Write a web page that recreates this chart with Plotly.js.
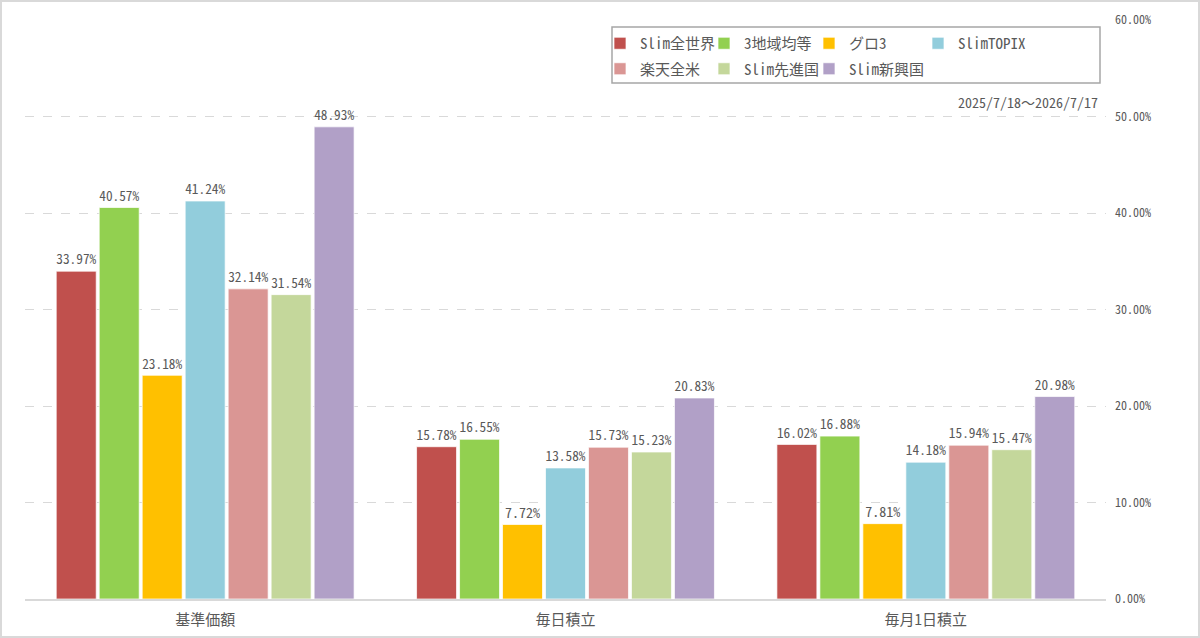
<!DOCTYPE html>
<html>
<head>
<meta charset="utf-8">
<script src="https://cdn.plot.ly/plotly-3.0.1.min.js"></script>
<style>
  body { margin: 0; background: #fff; }
  #chart { width: 1200px; height: 638px; }
</style>
</head>
<body>
<div id="chart"></div>
<script>
var categories = ['基準価額', '毎日積立', '毎月1日積立']

var seriesNames = ['Slim全世界', '3地域均等', 'グロ3', 'SlimTOPIX', '楽天全米', 'Slim先進国', 'Slim新興国']
var seriesColors = ['#C0504D', '#92D050', '#FFC000', '#92CDDC', '#DA9694', '#C4D79B', '#B1A0C7']

var slimAll = [33.97, 15.78, 16.02]
var threeRegion = [40.57, 16.55, 16.88]
var guro3 = [23.18, 7.72, 7.81]
var slimTopix = [41.24, 13.58, 14.18]
var rakutenUS = [32.14, 15.73, 15.94]
var slimDeveloped = [31.54, 15.23, 15.47]
var slimEmerging = [48.93, 20.83, 20.98]

var seriesValues = [slimAll, threeRegion, guro3, slimTopix, rakutenUS, slimDeveloped, slimEmerging]

var periodLabel = '2025/7/18～2026/7/17'

var textColor = '#595959'
var font = '"Noto Sans Mono CJK JP", "Noto Sans CJK JP", "Noto Sans", sans-serif'

// legend columns (two rows): column index per series
var legendIds = ['legend', 'legend2', 'legend3', 'legend4', 'legend', 'legend2', 'legend3']

var traces = []
for (let i = 0; i < seriesNames.length; i++) {
  traces.push({
    type: 'bar',
    name: seriesNames[i],
    x: categories,
    y: seriesValues[i],
    marker: { color: seriesColors[i], line: { color: 'rgba(255,255,255,0.7)', width: 1 } },
    texttemplate: '%{y:.2f}%',
    textposition: 'outside',
    textfont: { family: font, size: 14, color: textColor },
    cliponaxis: false,
    legend: legendIds[i],
    legendgroup: 'g' + i,
    hoverinfo: 'skip'
  })
}

// plot area: 25..1106 px wide, 20..599 px high
var pl = 25, pw = 1081, pt = 20, ph = 579
function px(x) { return (x - pl) / pw }
function py(y) { return (pt + ph - y) / ph }

function legendAt(left) {
  return {
    orientation: 'v',
    x: px(left),
    xanchor: 'left',
    y: py(27),
    yanchor: 'top',
    bgcolor: 'rgba(0,0,0,0)',
    borderwidth: 0,
    tracegroupgap: 3,
    itemclick: false,
    font: { family: font, size: 15, color: textColor }
  }
}

var layout = {
  width: 1200,
  height: 638,
  margin: { l: pl, r: 1200 - pl - pw, t: pt, b: 638 - pt - ph },
  paper_bgcolor: '#fff',
  plot_bgcolor: '#fff',
  barmode: 'group',
  bargap: 0.165,
  bargroupgap: 0.07,
  font: { family: font, color: textColor },
  xaxis: {
    showgrid: false,
    showline: true,
    linecolor: '#D9D9D9',
    linewidth: 1.5,
    ticks: '',
    ticklabelstandoff: 6,
    tickfont: { family: font, size: 15, color: textColor }
  },
  yaxis: {
    side: 'right',
    range: [0, 60],
    dtick: 10,
    tickformat: '.2f',
    ticksuffix: '%',
    showgrid: true,
    gridcolor: '#D9D9D9',
    griddash: 'dash',
    gridwidth: 1,
    zeroline: false,
    showline: false,
    ticks: '',
    ticklabelstandoff: 8,
    tickfont: { family: font, size: 12, color: textColor }
  },
  legend: legendAt(600),
  legend2: legendAt(704),
  legend3: legendAt(809),
  legend4: legendAt(918),
  shapes: [
    {
      type: 'rect', xref: 'paper', yref: 'paper',
      x0: px(612), x1: px(1100), y0: py(83), y1: py(27),
      line: { color: '#A6A6A6', width: 1.5 }, fillcolor: 'rgba(0,0,0,0)'
    },
    {
      type: 'rect', xref: 'paper', yref: 'paper',
      x0: px(1), x1: px(1199), y0: py(637), y1: py(1),
      line: { color: '#D9D9D9', width: 2 }, fillcolor: 'rgba(0,0,0,0)'
    }
  ],
  annotations: [
    {
      xref: 'paper', yref: 'paper',
      x: px(1100), y: py(102),
      xanchor: 'right', yanchor: 'middle',
      text: periodLabel,
      showarrow: false,
      font: { family: font, size: 14, color: textColor }
    }
  ]
}

Plotly.newPlot('chart', traces, layout, { displayModeBar: false, staticPlot: true })
</script>
</body>
</html>
